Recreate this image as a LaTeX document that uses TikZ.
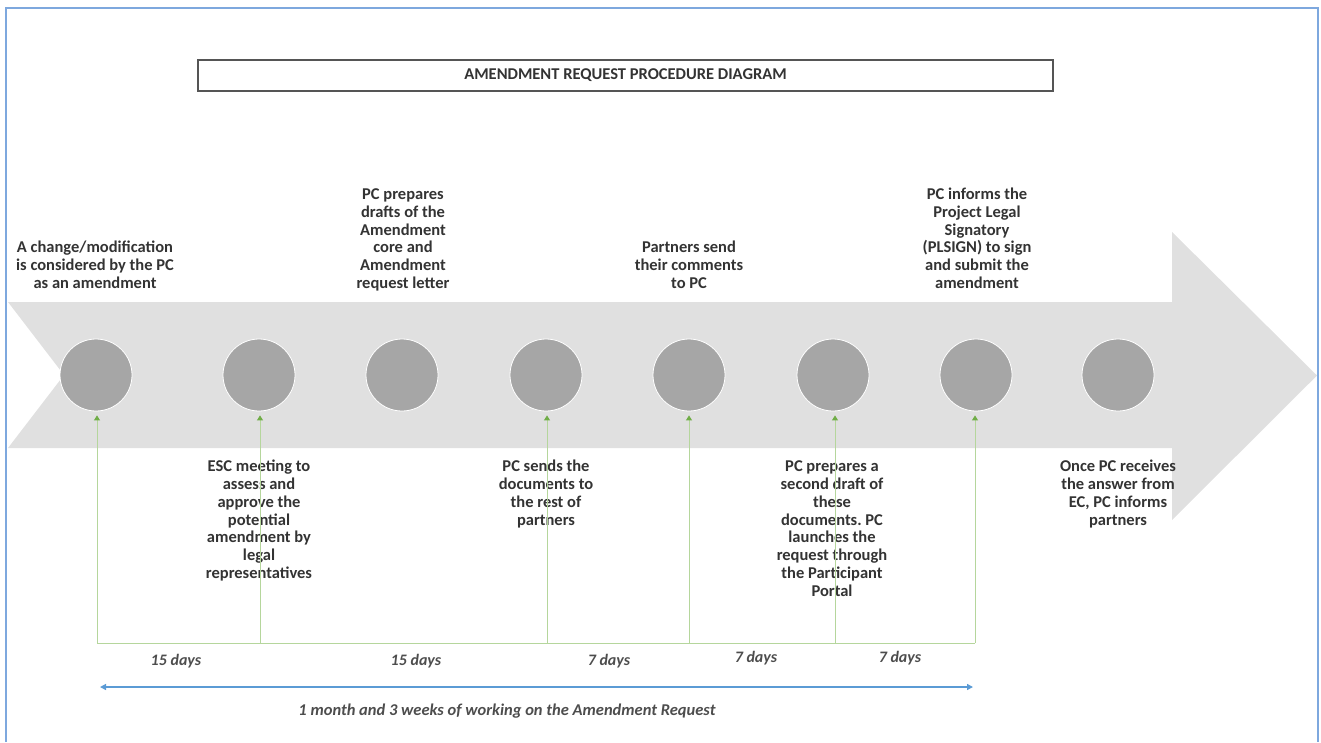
\documentclass[tikz,border=0pt]{standalone}
\usepackage{fontspec}
\setmainfont{Carlito}
\usetikzlibrary{arrows.meta}

\definecolor{framebl}{HTML}{7EA8DE}
\definecolor{arrowgr}{HTML}{E0E0E0}
\definecolor{dotgr}{HTML}{A6A6A6}
\definecolor{lineg}{HTML}{B5D69C}
\definecolor{tipg}{HTML}{70AD47}
\definecolor{spanbl}{HTML}{5B9BD5}
\definecolor{txt}{HTML}{333333}
\definecolor{daytxt}{HTML}{4D4D4D}
\definecolor{boxgr}{HTML}{555555}

\begin{document}
\frenchspacing
\begin{tikzpicture}[x=1pt,y=-1pt,
  stepdot/.style={circle, fill=dotgr, draw=white, line width=0.8pt,
    minimum size=72pt, inner sep=0pt},
  lbl/.style={align=center, inner sep=0pt, text=txt,
    font=\bfseries\fontsize{16.5}{17.8}\selectfont},
  toplbl/.style={lbl, anchor=south},
  botlbl/.style={lbl, anchor=north},
  daylbl/.style={inner sep=0pt, text=daytxt,
    font=\bfseries\itshape\fontsize{16}{18}\selectfont},
  gline/.style={draw=lineg, line width=1pt},
  gpoint/.style={gline, shorten >=4pt,
    -{Triangle[width=6pt,length=5pt,color=tipg]}},
  spanline/.style={draw=spanbl, line width=1.4pt,
    {Triangle[width=6pt,length=6pt]}-{Triangle[width=6pt,length=6pt]}}
]
\useasboundingbox (0,0) rectangle (1321,742);

% outer frame, open at the bottom
\draw[framebl, line width=1.5pt] (6,742) -- (6,8) -- (1318,8) -- (1318,742);

% heading
\node[draw=boxgr, line width=1.1pt, minimum width=855pt, minimum height=31pt,
      inner sep=0pt, text=txt, font=\bfseries\fontsize{16.5}{18}\selectfont]
  (title) at (625.5,75.5) {AMENDMENT REQUEST PROCEDURE DIAGRAM};

% the big process arrow
\fill[arrowgr] (8,302) -- (1172,302) -- (1172,232) -- (1317,375.5)
  -- (1172,520) -- (1172,448) -- (8,448) -- (64,375) -- cycle;

% milestones
\foreach \i/\x in {1/96, 2/259, 3/402, 4/546, 5/689, 6/833, 7/976, 8/1118}
  \node[stepdot] (d\i) at (\x,375) {};

% descriptions above the arrow
\node[toplbl] (t1) at (95,294) {A change/modification\\is considered by the PC\\as an amendment\strut};
\node[toplbl] (t3) at (403,294) {PC prepares\\drafts of the\\Amendment\\core and\\Amendment\\request letter\strut};
\node[toplbl] (t5) at (689,294) {Partners send\\their comments\\to PC\strut};
\node[toplbl] (t7) at (977,294) {PC informs the\\Project Legal\\Signatory\\(PLSIGN) to sign\\and submit the\\amendment\strut};

% descriptions below the arrow
\node[botlbl] (t2) at (259,459) {\strut ESC meeting to\\assess and\\approve the\\potential\\amendment by\\legal\\representatives};
\node[botlbl] (t4) at (546,459) {\strut PC sends the\\documents to\\the rest of\\partners};
\node[botlbl] (t6) at (832,459) {\strut PC prepares a\\second draft of\\these\\documents. PC\\launches the\\request through\\the Participant\\Portal};
\node[botlbl] (t8) at (1118,459) {\strut Once PC receives\\the answer from\\EC, PC informs\\partners};

% timing lines
\coordinate (b1) at (97,643);
\coordinate (b2) at (260,643);
\coordinate (b3) at (547,643);
\coordinate (b4) at (689,643);
\coordinate (b5) at (835,643);
\coordinate (b6) at (975,643);
\draw[gline] (b1) -- (b6);
\draw[gpoint] (b1) -- (b1 |- d1.south);
\draw[gpoint] (b2) -- (b2 |- d2.south);
\draw[gpoint] (b3) -- (b3 |- d4.south);
\draw[gpoint] (b4) -- (b4 |- d5.south);
\draw[gpoint] (b5) -- (b5 |- d6.south);
\draw[gpoint] (b6) -- (b6 |- d7.south);

% durations
\node[daylbl] (p1) at (176,661) {15 days};
\node[daylbl] (p2) at (416,661) {15 days};
\node[daylbl] (p3) at (609,661) {7 days};
\node[daylbl] (p4) at (756,658) {7 days};
\node[daylbl] (p5) at (900,658) {7 days};

% overall span
\coordinate (s1) at (100,687);
\coordinate (s2) at (973,687);
\draw[spanline] (s1) -- (s2);
\node[daylbl, font=\bfseries\itshape\fontsize{16.5}{18}\selectfont]
  (total) at (507,711) {1 month and 3 weeks of working on the Amendment Request};
\end{tikzpicture}
\end{document}
